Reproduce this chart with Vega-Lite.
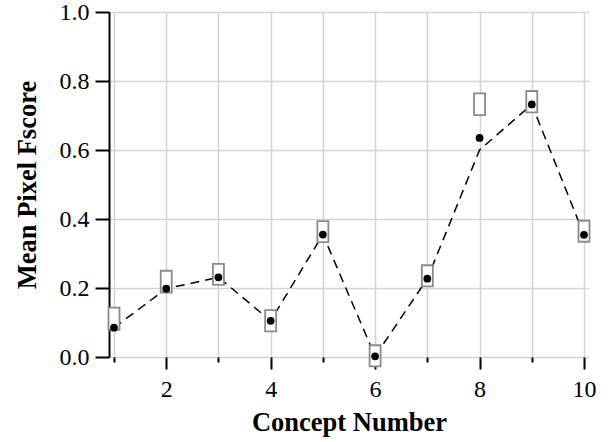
{
  "$schema": "https://vega.github.io/schema/vega-lite/v6.json",
  "width": 480,
  "height": 345,
  "autosize": {"type": "none"},
  "padding": {"left": 109, "top": 12, "right": 22, "bottom": 85},
  "config": {
    "view": {"stroke": null},
    "font": "Liberation Serif",
    "axis": {
      "labelFont": "Liberation Serif",
      "titleFont": "Liberation Serif",
      "labelColor": "black",
      "titleColor": "black",
      "labelFontSize": 24,
      "titleFontSize": 26.5,
      "titleFontWeight": "bold",
      "gridColor": "#d4d4d4",
      "gridWidth": 1.5,
      "tickColor": "black",
      "tickWidth": 2,
      "domainColor": "black",
      "domainWidth": 2
    }
  },
  "data": {
    "values": [
      {"concept": 1, "score": 0.085, "lo": 0.079, "hi": 0.143, "line": 0.085},
      {"concept": 2, "score": 0.198, "lo": 0.187, "hi": 0.25, "line": 0.198},
      {"concept": 3, "score": 0.231, "lo": 0.209, "hi": 0.27, "line": 0.231},
      {"concept": 4, "score": 0.105, "lo": 0.074, "hi": 0.136, "line": 0.105},
      {"concept": 5, "score": 0.355, "lo": 0.333, "hi": 0.394, "line": 0.355},
      {"concept": 6, "score": 0.002, "lo": -0.027, "hi": 0.034, "line": 0.002},
      {"concept": 7, "score": 0.227, "lo": 0.205, "hi": 0.266, "line": 0.227},
      {"concept": 8, "score": 0.635, "lo": 0.701, "hi": 0.764, "line": 0.6},
      {"concept": 9, "score": 0.732, "lo": 0.709, "hi": 0.771, "line": 0.732},
      {"concept": 10, "score": 0.354, "lo": 0.334, "hi": 0.395, "line": 0.354}
    ]
  },
  "encoding": {
    "x": {
      "field": "concept",
      "type": "quantitative",
      "title": "Concept Number",
      "scale": {"domain": [1, 10], "nice": false, "zero": false},
      "axis": {
        "values": [1, 2, 3, 4, 5, 6, 7, 8, 9, 10],
        "labelExpr": "datum.value % 2 == 0 ? datum.label : ''",
        "tickSize": {"condition": {"test": "datum.value % 2 == 0", "value": 12}, "value": 5},
        "domain": false,
        "labelPadding": 8,
        "titlePadding": 8
      }
    }
  },
  "layer": [
    {
      "mark": {"type": "line", "color": "black", "strokeDash": [9, 6], "strokeWidth": 1.5, "clip": false},
      "encoding": {
        "y": {
          "field": "line",
          "type": "quantitative",
          "title": "Mean Pixel Fscore",
          "scale": {"domain": [0, 1], "nice": false, "zero": false},
          "axis": {
            "values": [0, 0.1, 0.2, 0.3, 0.4, 0.5, 0.6, 0.7, 0.8, 0.9, 1.0],
            "labelExpr": "round(datum.value * 10) % 2 == 0 ? format(datum.value, '.1f') : ''",
            "tickSize": {"condition": {"test": "round(datum.value * 10) % 2 == 0", "value": 14}, "value": 5},
            "labelPadding": 6,
            "titlePadding": 18
          }
        }
      }
    },
    {
      "mark": {"type": "bar", "size": 11, "fill": "white", "stroke": "#8a8a8a", "strokeWidth": 1.8, "clip": false},
      "encoding": {
        "y": {"field": "lo", "type": "quantitative", "title": "Mean Pixel Fscore"},
        "y2": {"field": "hi"}
      }
    },
    {
      "mark": {"type": "point", "filled": true, "color": "black", "size": 60, "opacity": 1, "clip": false},
      "encoding": {
        "y": {"field": "score", "type": "quantitative", "title": "Mean Pixel Fscore"}
      }
    }
  ]
}
